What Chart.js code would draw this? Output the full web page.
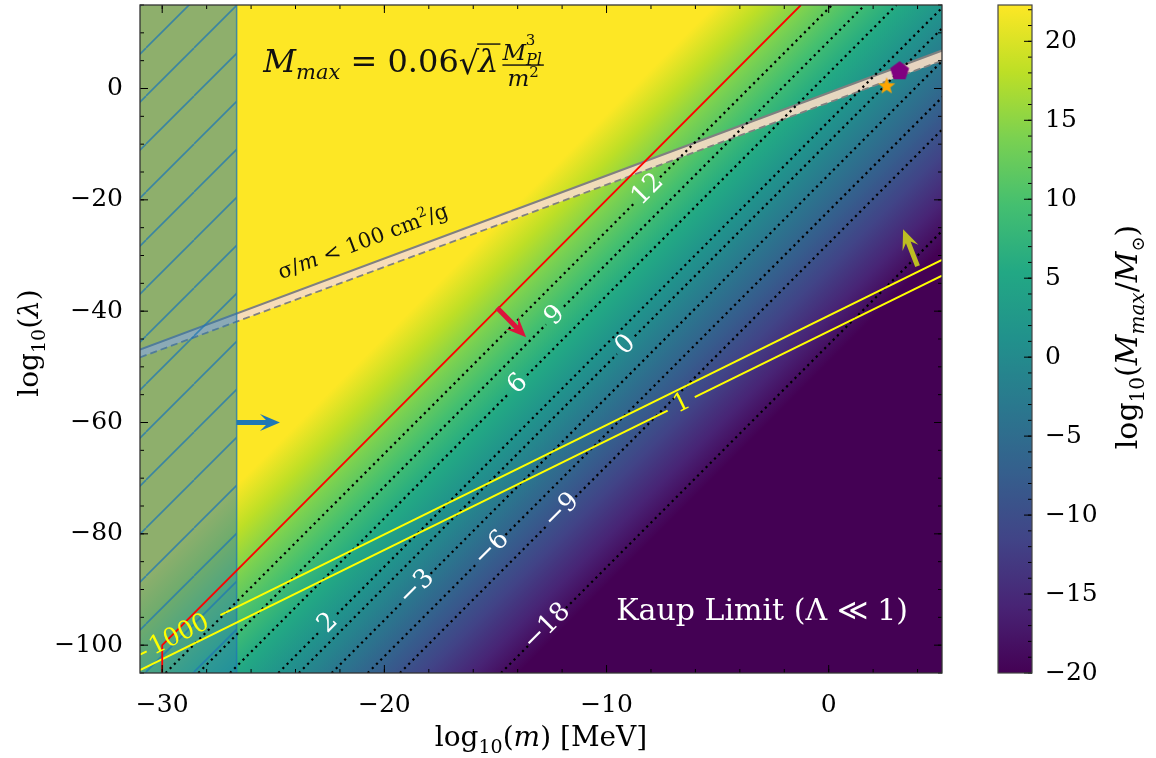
<!DOCTYPE html>
<html>
<head>
<meta charset="utf-8">
<script src="https://cdn.jsdelivr.net/npm/chart.js@4.4.1/dist/chart.umd.min.js"></script>
<style>
  body { margin: 0; background: #fff; }
  #wrap { position: relative; width: 1156px; height: 758px; }
  #main { position: absolute; left: 0; top: 0; }
  #cb { position: absolute; left: 990px; top: 0; }
</style>
</head>
<body>
<div id="wrap">
  <canvas id="main" width="1156" height="758"></canvas>
  <canvas id="cb" width="166" height="758"></canvas>
</div>
<script>
const SERIF = '"DejaVu Serif", "Liberation Serif", serif';

// ---- axes ----
const xRange = [-31, 5.1];
const yRange = [-105, 15];
const xTicks = [-30, -20, -10, 0];
const yTicks = [-100, -80, -60, -40, -20, 0];
const cbRange = [-20, 22.3];
const cbTicks = [-20, -15, -10, -5, 0, 5, 10, 15, 20];

// log10(Mmax/Msun) = fieldOffset + fieldSlope[0]*log10(m) + fieldSlope[1]*log10(lambda)
const fieldOffset = 4.6;
const fieldSlope = [-2, 0.5];

// hatched mass range
const hatchX = [-31, -26.65];

// sigma/m band
const bandUpper = [[-31, -46.9], [5.1, 6.8]];
const bandLower = [[-31, -48.3], [5.1, 5.0]];

// red bound
const redLine = [[-30, -105], [-30, -100], [-1.25, 15]];

// yellow contours, split where the label sits
const yellowLines = [
  [[[-31, -101.7], [-30.7, -101.1]], [[-27.38, -94.6], [5.1, -30.8]]],
  [[[-31, -104.5], [-7.25, -57.85]], [[-6.03, -55.46], [5.1, -33.6]]]
];
const yellowLabels = ['1000', '1'];
const yellowLabelAt = [[-29.23, -98.2], [-6.6, -56.6]];

// dotted contours
const contourLabels = ['12', '9', '6', '2', '0', '\u22123', '\u22126', '\u22129', '\u221218'];
const contourLines = [
  [[[-29.85, -105], [-8.69, -20.36]], [[-7.59, -15.96], [0.15, 15]]],
  [[[-28.375, -105], [-12.72, -42.38]], [[-11.92, -39.18], [1.625, 15]]],
  [[[-26.95, -105], [-14.38, -54.72]], [[-13.58, -51.52], [3.05, 15]]],
  [[[-24.775, -105], [-22.93, -97.62]], [[-22.13, -94.42], [5.225, 15]]],
  [[[-23.85, -105], [-9.53, -47.72]], [[-8.73, -44.52], [6.15, 15]]],
  [[[-22.375, -105], [-19.16, -92.14]], [[-17.92, -87.18], [7.625, 15]]],
  [[[-20.75, -105], [-15.79, -85.16]], [[-14.55, -80.2], [9.25, 15]]],
  [[[-19.3, -105], [-12.64, -78.36]], [[-11.4, -73.4], [10.7, 15]]],
  [[[-14.75, -105], [-13.53, -100.12]], [[-11.83, -93.32], [15.25, 15]]]
];
const contourLabelAt = [[-8.14, -18.16], [-12.32, -40.78], [-13.98, -53.12], [-22.53, -96.02],
  [-9.13, -46.12], [-18.54, -89.66], [-15.17, -82.68], [-12.02, -75.88], [-12.68, -96.72]];

// arrows and markers
const arrows = [
  { from: [-26.65, -60], to: [-24.7, -60], color: '#1f77b4' },
  { from: [-14.93, -39.4], to: [-13.62, -44.7], color: '#dc143c' },
  { from: [4.0, -31.9], to: [3.35, -25.3], color: '#bcbd22' }
];
const pentagonPoint = [3.19, 3.1];
const starPoint = [2.61, 0.41];

const viridis = ['#440154', '#482475', '#414487', '#355f8d', '#2a788e', '#21918c',
  '#22a884', '#44bf70', '#7ad151', '#bddf26', '#fde725'];

// ---- helpers ----
const xy = pts => pts.map(([x, y]) => ({ x, y }));
const fmt = v => (v < 0 ? '\u2212' + Math.abs(v) : String(v));
const range = (a, b, s) => { const r = []; for (let v = a; v <= b + 1e-9; v += s) r.push(+v.toFixed(6)); return r; };

function lineDs(pts, color, width, extra) {
  return Object.assign({ data: xy(pts), showLine: true, borderColor: color, borderWidth: width,
    pointRadius: 0, fill: false, tension: 0 }, extra);
}

function hatchPattern() {
  const s = 48, c = document.createElement('canvas');
  c.width = c.height = s;
  const g = c.getContext('2d');
  g.fillStyle = 'rgba(31,119,180,0.5)';
  g.fillRect(0, 0, s, s);
  g.strokeStyle = 'rgba(31,119,180,0.75)';
  g.lineWidth = 1.6;
  for (const k of [-s, 0, s]) { g.beginPath(); g.moveTo(k, s); g.lineTo(k + s, 0); g.stroke(); }
  const p = document.getElementById('main').getContext('2d').createPattern(c, 'repeat');
  p.setTransform(new DOMMatrix([1, 0, 0, 1, 2, 0]));
  return p;
}

function polyMarker(n, rOut, rIn, color) {
  const size = 2 * rOut + 2, c = document.createElement('canvas');
  c.width = c.height = size;
  const g = c.getContext('2d');
  g.fillStyle = color;
  g.beginPath();
  const k = rIn ? 2 * n : n;
  for (let i = 0; i < k; i++) {
    const r = rIn && i % 2 ? rIn : rOut, a = -Math.PI / 2 + i * 2 * Math.PI / k;
    const px = size / 2 + r * Math.cos(a), py = size / 2 + r * Math.sin(a);
    i ? g.lineTo(px, py) : g.moveTo(px, py);
  }
  g.closePath();
  g.fill();
  return c;
}

function fontOf(p) { return (p[2] === 'i' ? 'italic ' : '') + p[1] + 'px ' + SERIF; }
function richWidth(ctx, parts) {
  let w = 0;
  for (const p of parts) { ctx.font = fontOf(p); w += ctx.measureText(p[0]).width; }
  return w;
}
function drawRich(ctx, parts, x, y) {
  let cx = x;
  for (const p of parts) {
    ctx.font = fontOf(p);
    ctx.fillText(p[0], cx, y + (p[3] || 0));
    cx += ctx.measureText(p[0]).width;
  }
  return cx;
}
function richCentered(ctx, parts, cx, cy, ang, color) {
  ctx.save();
  ctx.translate(cx, cy);
  ctx.rotate(ang);
  ctx.fillStyle = color;
  ctx.textBaseline = 'alphabetic';
  ctx.textAlign = 'left';
  drawRich(ctx, parts, -richWidth(ctx, parts) / 2, 0);
  ctx.restore();
}
function textAt(ctx, text, x, y, ang, size, color) {
  ctx.save();
  ctx.translate(x, y);
  ctx.rotate(ang);
  ctx.font = size + 'px ' + SERIF;
  ctx.fillStyle = color;
  ctx.textAlign = 'center';
  ctx.textBaseline = 'middle';
  ctx.fillText(text, 0, 0);
  ctx.restore();
}
function drawArrow(ctx, x0, y0, x1, y1, color) {
  const ang = Math.atan2(y1 - y0, x1 - x0), len = Math.hypot(x1 - x0, y1 - y0);
  const w = 5, hw = 17, hl = 20, notch = 6;
  ctx.save();
  ctx.translate(x0, y0);
  ctx.rotate(ang);
  ctx.beginPath();
  ctx.moveTo(0, -w / 2);
  ctx.lineTo(len - hl + notch, -w / 2);
  ctx.lineTo(len - hl, -hw / 2);
  ctx.lineTo(len, 0);
  ctx.lineTo(len - hl, hw / 2);
  ctx.lineTo(len - hl + notch, w / 2);
  ctx.lineTo(0, w / 2);
  ctx.closePath();
  ctx.fillStyle = color;
  ctx.fill();
  ctx.restore();
}
function tickMarks(ctx, scale, values, len, horizontal, a) {
  for (const v of values) {
    const p = scale.getPixelForValue(v);
    ctx.beginPath();
    if (horizontal) {
      ctx.moveTo(p, a.bottom); ctx.lineTo(p, a.bottom - len);
      ctx.moveTo(p, a.top); ctx.lineTo(p, a.top + len);
    } else {
      ctx.moveTo(a.left, p); ctx.lineTo(a.left + len, p);
      ctx.moveTo(a.right, p); ctx.lineTo(a.right - len, p);
    }
    ctx.stroke();
  }
}
function noEdgePadding(s) { s.paddingTop = 0; s.paddingBottom = 0; s.paddingLeft = 0; s.paddingRight = 0; }

// ---- datasets ----
const datasets = [];
datasets.push({ data: xy([pentagonPoint]), pointStyle: polyMarker(5, 10, 0, '#800080'), pointRadius: 10, showLine: false, order: 1 });
datasets.push({ data: xy([starPoint]), pointStyle: polyMarker(5, 9, 3.8, '#ffa500'), pointRadius: 9, showLine: false, order: 1 });
datasets.push(lineDs(bandUpper, '#808080', 2.2, { fill: '+1', backgroundColor: 'rgba(246,219,196,0.92)', order: 21 }));
datasets.push(lineDs(bandLower, '#808080', 1.8, { borderDash: [7, 4], order: 20 }));
datasets.push(lineDs([[hatchX[0], yRange[1]], [hatchX[1], yRange[1]]], 'rgba(0,0,0,0)', 0,
  { fill: 'start', backgroundColor: hatchPattern(), order: 15 }));
datasets.push(lineDs([[hatchX[1], yRange[0]], [hatchX[1], yRange[1]]], 'rgba(31,119,180,0.8)', 1.5, { order: 14 }));
contourLines.forEach(segs => segs.forEach(s =>
  datasets.push(lineDs(s, '#000', 2.2, { borderDash: [2.2, 3.8], borderCapStyle: 'butt', order: 10 }))));
yellowLines.forEach(segs => segs.forEach(s =>
  datasets.push(lineDs(s, '#ffff00', 2, { order: 9 }))));
datasets.push(lineDs(redLine, '#ff0000', 1.8, { order: 8 }));

// ---- plugins ----
const heatmap = {
  id: 'heatmap',
  beforeDatasetsDraw(chart) {
    const { ctx, chartArea: a, scales: { x, y } } = chart;
    const px = (m, l) => [x.getPixelForValue(m), y.getPixelForValue(l)];
    const mAt = v => (v - fieldOffset) / fieldSlope[0];
    const pHi = px(mAt(cbRange[1]), 0), pLo = px(mAt(cbRange[0]), 0);
    const q = px(mAt(cbRange[1]) + 1, -fieldSlope[0] / fieldSlope[1]);
    let dx = q[0] - pHi[0], dy = q[1] - pHi[1];
    const n = Math.hypot(dx, dy); dx /= n; dy /= n;
    const nx = -dy, ny = dx;
    const proj = (pLo[0] - pHi[0]) * nx + (pLo[1] - pHi[1]) * ny;
    const g = ctx.createLinearGradient(pHi[0], pHi[1], pHi[0] + nx * proj, pHi[1] + ny * proj);
    viridis.forEach((c, i) => g.addColorStop(1 - i / (viridis.length - 1), c));
    ctx.save();
    ctx.fillStyle = g;
    ctx.fillRect(a.left, a.top, a.width, a.height);
    ctx.restore();
  }
};

const decorations = {
  id: 'decorations',
  afterDatasetsDraw(chart) {
    const { ctx, chartArea: a, scales: { x, y } } = chart;
    const px = (m, l) => [x.getPixelForValue(m), y.getPixelForValue(l)];
    const angleOf = seg => { const p = px(...seg[0]), q = px(...seg[1]); return Math.atan2(q[1] - p[1], q[0] - p[0]); };

    ctx.save();
    ctx.beginPath();
    ctx.rect(a.left, a.top, a.width, a.height);
    ctx.clip();

    arrows.forEach(ar => { const p = px(...ar.from), q = px(...ar.to); drawArrow(ctx, p[0], p[1], q[0], q[1], ar.color); });

    contourLabels.forEach((t, i) => {
      const p = px(...contourLabelAt[i]);
      textAt(ctx, t, p[0], p[1], angleOf(contourLines[i][0]), 26, '#fff');
    });
    yellowLabels.forEach((t, i) => {
      const p = px(...yellowLabelAt[i]);
      textAt(ctx, t, p[0], p[1], angleOf(yellowLines[i][1]), 25, '#ffff00');
    });

    // band label
    const bp = px(-20.86, -28.6);
    richCentered(ctx, [['\u03c3/', 21, ''], ['m', 21, 'i'], [' < 100 cm', 21, ''], ['2', 14, '', -9], ['/g', 21, '']],
      bp[0], bp[1], angleOf(bandUpper), '#111');

    // Kaup limit
    const kp = px(-3.0, -93.6);
    richCentered(ctx, [['Kaup Limit (\u039b \u226a 1)', 30, '']], kp[0], kp[1] + 10, 0, '#fff');

    // formula
    const fp = px(-25.45, 2.9);
    ctx.fillStyle = '#111';
    let cx = drawRich(ctx, [['M', 32, 'i'], ['max', 21, 'i', 7], [' = 0.06', 32, '']], fp[0], fp[1]);
    ctx.font = '32px ' + SERIF;
    ctx.fillText('\u221a', cx, fp[1] + 2);
    cx += ctx.measureText('\u221a').width - 1;
    ctx.font = 'italic 32px ' + SERIF;
    const lw = ctx.measureText('\u03bb').width;
    ctx.fillText('\u03bb', cx, fp[1]);
    ctx.fillRect(cx - 1, fp[1] - 29, lw + 3, 1.4);
    cx += lw + 4;
    const numEnd = drawRich(ctx, [['M', 23, 'i'], ['Pl', 16, 'i', 5]], cx, fp[1] - 12);
    drawRich(ctx, [['3', 15, '', 0]], numEnd - 16, fp[1] - 27);
    const fw = numEnd - cx + 2;
    ctx.fillRect(cx, fp[1] - 8, fw, 1.4);
    const den = [['m', 23, 'i'], ['2', 15, '', -9]];
    const dw = richWidth(ctx, den);
    drawRich(ctx, den, cx + (fw - dw) / 2, fp[1] + 14);
    ctx.restore();
  },
  afterDraw(chart) {
    const { ctx, chartArea: a, scales: { x, y } } = chart;
    ctx.save();
    ctx.strokeStyle = '#000';
    ctx.lineWidth = 1;
    tickMarks(ctx, x, range(-30, 4, 2), 4, true, a);
    tickMarks(ctx, x, xTicks, 8, true, a);
    tickMarks(ctx, y, range(-105, 15, 5), 4, false, a);
    tickMarks(ctx, y, yTicks, 8, false, a);
    ctx.strokeStyle = '#333';
    ctx.lineWidth = 1.3;
    ctx.strokeRect(a.left, a.top, a.width, a.height);
    const cxm = (a.left + a.right) / 2;
    richCentered(ctx, [['log', 28, ''], ['10', 19, '', 7], ['(', 28, ''], ['m', 28, 'i'], [') [MeV]', 28, '']], cxm, 746, 0, '#000');
    richCentered(ctx, [['log', 28, ''], ['10', 19, '', 7], ['(', 28, ''], ['\u03bb', 28, 'i'], [')', 28, '']], 38, 343, -Math.PI / 2, '#000');
    ctx.restore();
  }
};

const tickFont = { family: SERIF, size: 25 };

new Chart(document.getElementById('main'), {
  type: 'scatter',
  data: { datasets },
  options: {
    responsive: false,
    animation: false,
    devicePixelRatio: 1,
    layout: { autoPadding: false, padding: { left: 0, right: 214, top: 5, bottom: 0 } },
    plugins: { legend: { display: false }, tooltip: { enabled: false } },
    scales: {
      x: {
        type: 'linear', min: xRange[0], max: xRange[1],
        afterFit: s => { s.height = 85; noEdgePadding(s); },
        afterBuildTicks: s => { s.ticks = xTicks.map(v => ({ value: v })); },
        grid: { display: false }, border: { display: false },
        ticks: { font: tickFont, color: '#000', padding: 9, autoSkip: false, maxRotation: 0, callback: fmt }
      },
      y: {
        type: 'linear', min: yRange[0], max: yRange[1],
        afterFit: s => { s.width = 140; noEdgePadding(s); },
        afterBuildTicks: s => { s.ticks = yTicks.map(v => ({ value: v })); },
        grid: { display: false }, border: { display: false },
        ticks: { font: tickFont, color: '#000', padding: 9, autoSkip: false, callback: fmt }
      }
    }
  },
  plugins: [heatmap, decorations]
});

// ---- colour bar ----
function barGradient(chart) {
  const y = chart.scales.y;
  if (!y || !chart.chartArea) return viridis[5];
  const y0 = y.getPixelForValue(cbRange[0]), y1 = y.getPixelForValue(cbRange[1]);
  if (!Number.isFinite(y0) || !Number.isFinite(y1)) return viridis[5];
  const g = chart.ctx.createLinearGradient(0, y0, 0, y1);
  viridis.forEach((c, i) => g.addColorStop(i / (viridis.length - 1), c));
  return g;
}

const cbDecor = {
  id: 'cbDecor',
  afterDraw(chart) {
    const { ctx, chartArea: a, scales: { y } } = chart;
    ctx.save();
    ctx.strokeStyle = '#000';
    ctx.lineWidth = 1;
    const marks = (vals, len) => vals.forEach(v => {
      const p = y.getPixelForValue(v);
      ctx.beginPath(); ctx.moveTo(a.right, p); ctx.lineTo(a.right - len, p); ctx.stroke();
    });
    marks(range(-20, 22, 1), 4);
    marks(cbTicks, 8);
    ctx.strokeStyle = '#444';
    ctx.lineWidth = 1.2;
    ctx.strokeRect(a.left, a.top, a.width, a.height);
    richCentered(ctx, [['log', 30, ''], ['10', 20, '', 7], ['(', 30, ''], ['M', 30, 'i'], ['max', 20, 'i', 7],
      ['/', 30, ''], ['M', 30, 'i'], ['\u2299', 18, '', 7], [')', 30, '']], 147, 337, -Math.PI / 2, '#000');
    ctx.restore();
  }
};

new Chart(document.getElementById('cb'), {
  type: 'bar',
  data: {
    labels: [''],
    datasets: [{ data: [cbRange], backgroundColor: c => barGradient(c.chart), borderWidth: 0,
      barPercentage: 1, categoryPercentage: 1 }]
  },
  options: {
    responsive: false,
    animation: false,
    devicePixelRatio: 1,
    layout: { autoPadding: false, padding: { left: 8, right: 0, top: 5, bottom: 85 } },
    plugins: { legend: { display: false }, tooltip: { enabled: false } },
    scales: {
      x: { display: false },
      y: {
        position: 'right', min: cbRange[0], max: cbRange[1],
        afterFit: s => { s.width = 124; noEdgePadding(s); },
        afterBuildTicks: s => { s.ticks = cbTicks.map(v => ({ value: v })); },
        grid: { display: false }, border: { display: false },
        ticks: { font: tickFont, color: '#000', padding: 5, callback: fmt }
      }
    }
  },
  plugins: [cbDecor]
});
</script>
</body>
</html>
